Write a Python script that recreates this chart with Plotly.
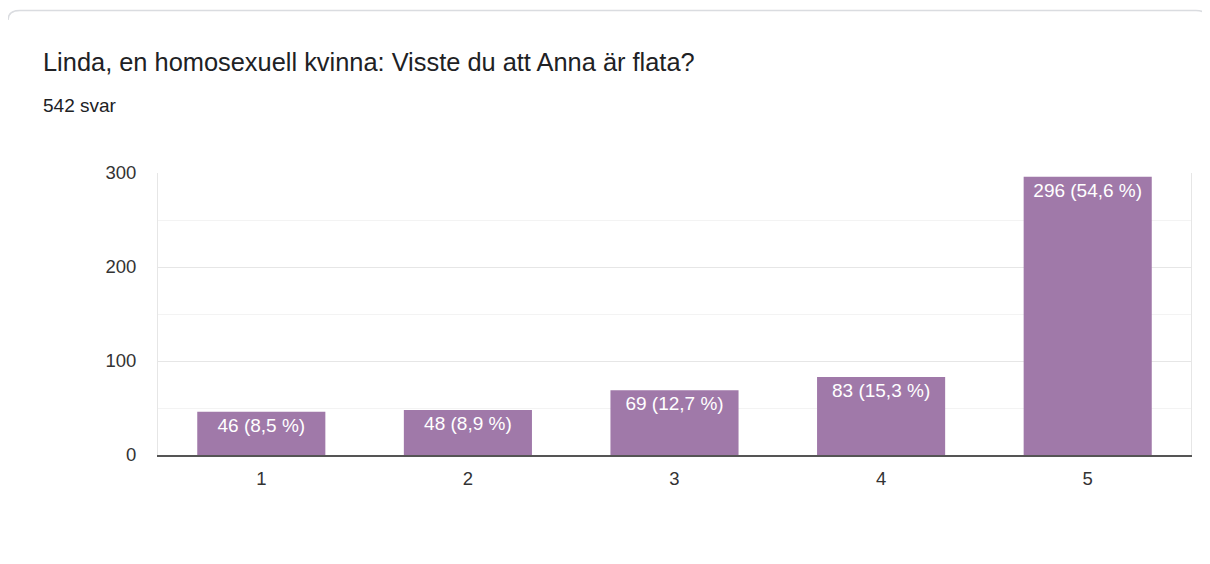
import plotly.graph_objects as go

categories = ["1", "2", "3", "4", "5"]
counts = [46, 48, 69, 83, 296]
percents = [8.5, 8.9, 12.7, 15.3, 54.6]
y_ticks = [0, 100, 200, 300]
title_text = "Linda, en homosexuell kvinna: Visste du att Anna är flata?"
subtitle_text = "542 svar"

labels = [f"{c} ({str(p).replace('.', ',')} %)" for c, p in zip(counts, percents)]

FONT = "Arial, Liberation Sans, Helvetica, sans-serif"

fig = go.Figure(
    go.Bar(
        x=categories,
        y=counts,
        text=labels,
        textposition="inside",
        insidetextanchor="end",
        textangle=0,
        constraintext="none",
        textfont=dict(family=FONT, size=19, color="white"),
        marker=dict(color="#a079a9", line=dict(width=0)),
        width=0.62,
        hoverinfo="skip",
    )
)

# page body has an 8px margin: work in screen coords, shift by OFF
OFF = 8
W, H = 1210 - OFF - 8, 564 - OFF - 8
SX_L, SX_R, SY_T, SY_B = 158, 1191, 173, 455  # plot area in screen px
L = SX_L - OFF
T = SY_T - OFF
R = W - (SX_R - OFF)
B = H - (SY_B - OFF)
pw, ph = SX_R - SX_L, SY_B - SY_T


def px(x):
    return (x - SX_L) / pw


def py(y):
    return (SY_B - y) / ph


fig.update_layout(
    width=W,
    height=H,
    margin=dict(l=L, r=R, t=T, b=B, pad=0),
    paper_bgcolor="white",
    plot_bgcolor="white",
    showlegend=False,
    font=dict(family=FONT, color="#444444"),
    bargap=0.38,
    xaxis=dict(
        type="category",
        showgrid=False,
        showline=True,
        linecolor="#555555",
        linewidth=1.5,
        ticks="",
        tickfont=dict(size=18.5, color="#333333"),
        ticklabelstandoff=6,
        fixedrange=True,
    ),
    yaxis=dict(
        range=[0, 300],
        tickvals=y_ticks,
        showgrid=True,
        gridcolor="#e6e6e6",
        gridwidth=1,
        showline=True,
        mirror=True,
        linecolor="#e6e6e6",
        linewidth=1,
        zeroline=False,
        ticks="",
        tickfont=dict(size=18.5, color="#333333"),
        ticklabelstandoff=17,
        minor=dict(dtick=50, showgrid=True, gridcolor="#f3f3f3", gridwidth=1),
        fixedrange=True,
    ),
    annotations=[
        dict(
            text=title_text,
            xref="paper", yref="paper",
            x=px(41), y=py(62),
            xanchor="left", yanchor="middle",
            showarrow=False,
            font=dict(family=FONT, size=25.4, color="#202124"),
        ),
        dict(
            text=subtitle_text,
            xref="paper", yref="paper",
            x=px(41), y=py(105),
            xanchor="left", yanchor="middle",
            showarrow=False,
            font=dict(family=FONT, size=19, color="#202124"),
        ),
    ],
    shapes=[
        dict(
            type="path",
            xref="paper", yref="paper",
            path=f"M {px(8)},{py(20)} Q {px(8)},{py(10.5)} {px(20)},{py(10.5)} L {px(1196)},{py(10.5)} Q {px(1208)},{py(10.5)} {px(1208)},{py(20)}",
            line=dict(color="#dadce0", width=1.5),
            layer="above",
        )
    ],
)

fig.write_html("out.html")
